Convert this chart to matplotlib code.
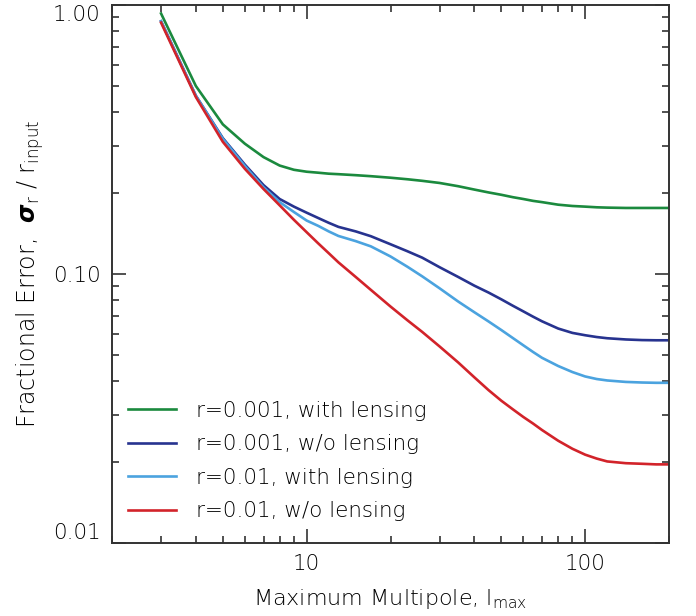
import numpy as np
import matplotlib.pyplot as plt

plt.rcParams['font.family'] = ['DejaVu Sans']
plt.rcParams['font.weight'] = 'light'
plt.rcParams['axes.labelweight'] = 'light'
plt.rcParams['mathtext.fontset'] = 'custom'
plt.rcParams['mathtext.rm'] = 'DejaVu Sans:weight=light'
plt.rcParams['mathtext.bf'] = 'DejaVu Sans:style=italic:weight=bold'

# maximum multipole
ell = [3, 4, 5, 6, 7, 8, 9, 10, 11, 12, 13, 15, 17, 20, 23, 26, 30, 35, 40, 45, 50,
       55, 60, 65, 70, 80, 90, 100, 110, 120, 140, 160, 180, 200]

# fractional error sigma_r / r_input
r001_lens = [0.93, 0.50, 0.36, 0.305, 0.272, 0.253, 0.244, 0.240, 0.238, 0.236, 0.235,
             0.233, 0.231, 0.228, 0.225, 0.222, 0.218, 0.212, 0.206, 0.201, 0.197,
             0.193, 0.190, 0.187, 0.185, 0.181, 0.179, 0.178, 0.177, 0.1765, 0.176,
             0.176, 0.176, 0.176]
r001_nolens = [0.87, 0.46, 0.32, 0.255, 0.214, 0.190, 0.178, 0.169, 0.1615, 0.155, 0.1497,
               0.1440, 0.1382, 0.129, 0.1215, 0.115, 0.106, 0.0975, 0.0905, 0.0853, 0.0805,
               0.0762, 0.0726, 0.0694, 0.0667, 0.0627, 0.0604, 0.0592, 0.0583, 0.0577,
               0.0571, 0.0568, 0.0567, 0.0567]
r01_lens = [0.87, 0.46, 0.318, 0.252, 0.210, 0.185, 0.170, 0.158, 0.151, 0.144, 0.1385,
            0.1325, 0.1267, 0.1162, 0.1064, 0.098, 0.0885, 0.079, 0.0721, 0.0666, 0.0619,
            0.0578, 0.0543, 0.0513, 0.0488, 0.0455, 0.0432, 0.0416, 0.0407, 0.0402,
            0.0397, 0.0395, 0.0394, 0.0394]
r01_nolens = [0.86, 0.455, 0.31, 0.246, 0.207, 0.180, 0.159, 0.143, 0.130, 0.1195, 0.1105,
              0.0975, 0.0873, 0.0757, 0.0673, 0.0609, 0.0538, 0.0469, 0.0413, 0.0370,
              0.0338, 0.0314, 0.0294, 0.0278, 0.0263, 0.0240, 0.0224, 0.0213, 0.0206,
              0.0201, 0.0198, 0.0197, 0.0196, 0.0196]

labels = ['r=0.001, with lensing', 'r=0.001, w/o lensing',
          'r=0.01, with lensing', 'r=0.01, w/o lensing']
colors = ['#1b8a3e', '#27338f', '#4ba3df', '#d2232a']

fig = plt.figure(figsize=(6.96, 6.16), dpi=100)
ax = fig.add_axes([112 / 696, 1 - 543 / 616, 557 / 696, 538 / 616])

for y, lab, c in zip([r001_lens, r001_nolens, r01_lens, r01_nolens], labels, colors):
    ax.plot(ell, y, color=c, lw=1.9, label=lab, solid_joinstyle='round')

ax.set_xscale('log')
ax.set_yscale('log')
ax.set_xlim(2, 200)
ax.set_ylim(0.01, 1.0)
ax.set_yticks([0.01, 0.1, 1.0])
ax.set_yticklabels(['0.01', '0.10', '1.00'])
ax.set_xticks([10, 100])
ax.set_xticklabels(['10', '100'])

ax.tick_params(which='both', direction='in', top=True, right=True, labelsize=15.5,
               color='#222222', labelcolor='black')
ax.tick_params(which='major', length=10, width=1.1, pad=8)
ax.tick_params(which='minor', length=5, width=1.1)
for s in ax.spines.values():
    s.set_linewidth(1.4)
    s.set_color('#333333')

# IDL-style label placement at the ends of the y axis
ylabs = ax.get_yticklabels()
ylabs[0].set_va('bottom')
ylabs[-1].set_va('top')

ax.set_xlabel(r'Maximum Multipole, l$_{\rm max}$', fontsize=16, labelpad=9, color='black')
ax.set_ylabel(r'Fractional Error,  $\mathbf{\sigma}_{\rm r}$ / r$_{\rm input}$', fontsize=17,
              labelpad=5, color='black')

ax.legend(loc='lower left', bbox_to_anchor=(0.029, 0.04), frameon=False, fontsize=15.5,
          handlelength=2.2, handletextpad=0.95, labelspacing=0.63, borderpad=0, borderaxespad=0,
          labelcolor='black')

fig.savefig('out.png', dpi=100)
